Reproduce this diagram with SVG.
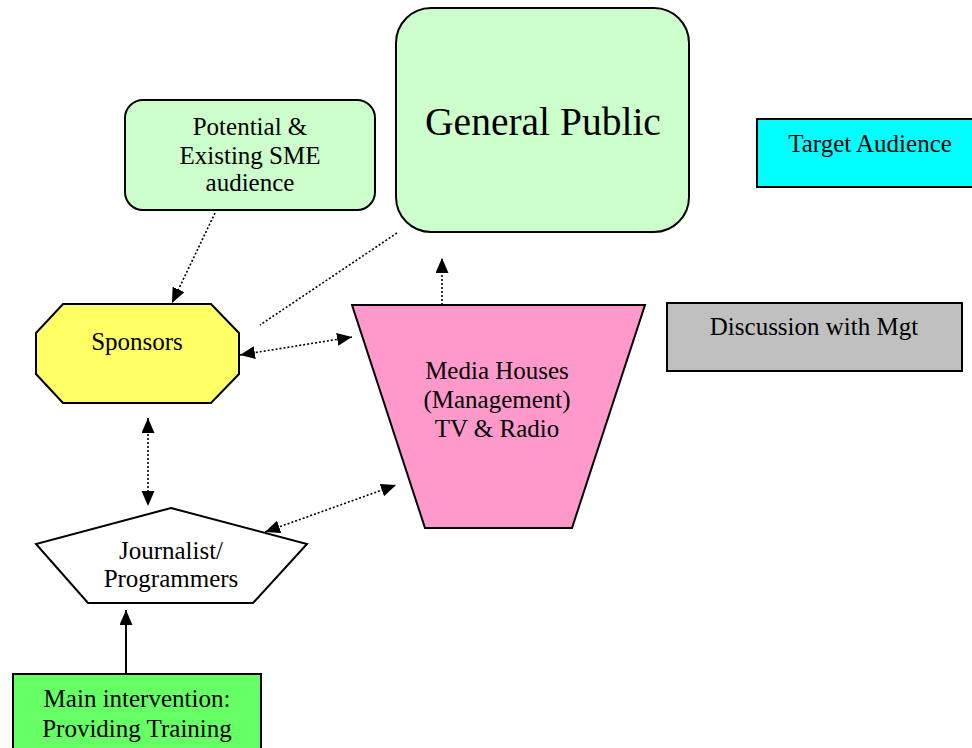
<svg xmlns="http://www.w3.org/2000/svg" width="972" height="748" viewBox="0 0 972 748">
<style>
.shape{stroke:#000;stroke-width:2;stroke-linejoin:miter}
.lbl{font-family:"Liberation Serif","Times New Roman",serif;font-size:25px;fill:#000;text-anchor:middle}
.dot{stroke:#000;stroke-width:1.6;stroke-dasharray:2 2;fill:none}
.solid{stroke:#000;stroke-width:2;fill:none}
</style>
<defs>
<marker id="ah" markerUnits="userSpaceOnUse" markerWidth="16" markerHeight="14" refX="15" refY="6.5" orient="auto-start-reverse">
<path d="M0,0 L15,6.5 L0,13 z" fill="#000"/>
</marker>
</defs>
<rect width="972" height="748" fill="#fff"/>
<g id="connectors">
<line class="dot" x1="215" y1="213" x2="172" y2="303" marker-end="url(#ah)"/>
<line class="dot" x1="397" y1="233" x2="260" y2="325"/>
<line class="dot" x1="240" y1="355" x2="352" y2="337" marker-start="url(#ah)" marker-end="url(#ah)"/>
<line class="dot" x1="442" y1="305" x2="442" y2="258" marker-end="url(#ah)"/>
<line class="dot" x1="148" y1="418" x2="148" y2="506" marker-start="url(#ah)" marker-end="url(#ah)"/>
<line class="dot" x1="265" y1="532" x2="396" y2="485" marker-start="url(#ah)" marker-end="url(#ah)"/>
<line class="solid" x1="126" y1="674" x2="126" y2="610" marker-end="url(#ah)"/>
</g>
<g id="general-public">
<rect class="shape" x="396" y="8" width="293" height="224" rx="35" fill="#CCFFCC"/>
<text class="lbl" x="543" y="135" style="font-size:39.5px">General Public</text>
</g>
<g id="potential-sme">
<rect class="shape" x="125" y="100" width="250" height="110" rx="18" fill="#CCFFCC"/>
<text class="lbl" x="250" y="135">Potential &amp;</text>
<text class="lbl" x="250" y="164">Existing SME</text>
<text class="lbl" x="250" y="191">audience</text>
</g>
<g id="target-audience">
<rect class="shape" x="757" y="119" width="216" height="68" fill="#00FFFF"/>
<text class="lbl" x="870" y="152">Target Audience</text>
</g>
<g id="sponsors">
<polygon class="shape" points="63,304 211,304 239,333 239,374 211,403 63,403 36,374 36,333" fill="#FFFF66"/>
<text class="lbl" x="137" y="350">Sponsors</text>
</g>
<g id="media-houses">
<polygon class="shape" points="352,305 645,305 572,528 425,528" fill="#FF99CC"/>
<text class="lbl" x="497" y="379">Media Houses</text>
<text class="lbl" x="497" y="408">(Management)</text>
<text class="lbl" x="497" y="437">TV &amp; Radio</text>
</g>
<g id="discussion">
<rect class="shape" x="667" y="303" width="295" height="68" fill="#C0C0C0"/>
<text class="lbl" x="814" y="335">Discussion with Mgt</text>
</g>
<g id="journalist">
<polygon class="shape" points="171,508 307,544 253,603 88,603 36,544" fill="#FFFFFF"/>
<text class="lbl" x="171" y="559">Journalist/</text>
<text class="lbl" x="171" y="587">Programmers</text>
</g>
<g id="main-intervention">
<rect class="shape" x="13" y="674" width="248" height="90" fill="#66FF66"/>
<text class="lbl" x="137" y="707">Main intervention:</text>
<text class="lbl" x="137" y="737">Providing Training</text>
</g>
</svg>
